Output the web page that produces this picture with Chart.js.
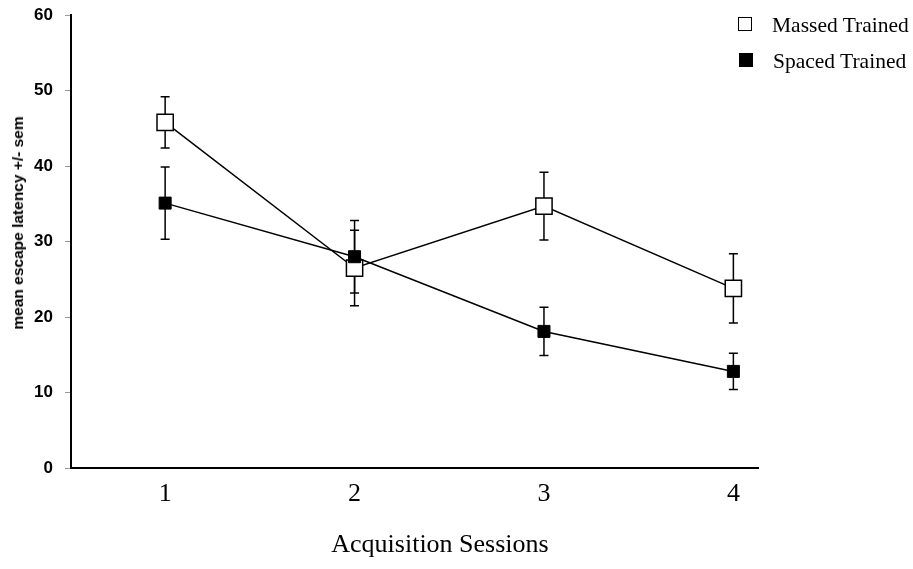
<!DOCTYPE html>
<html>
<head>
<meta charset="utf-8">
<script src="https://cdn.jsdelivr.net/npm/chart.js@4/dist/chart.umd.min.js"></script>
<style>
  html, body { margin: 0; padding: 0; background: #fff; }
  #wrap { position: relative; width: 913px; height: 569px; }
  canvas { position: absolute; left: 0; top: 0; }
  .leg { position: absolute; font-family: "Liberation Serif", "Times New Roman", serif; font-size: 21.5px; color: #000; line-height: 22px; white-space: nowrap; }
  .sw { position: absolute; box-sizing: border-box; }
  .xt { position: absolute; left: 440px; top: 531px; transform: translateX(-50%); font-family: "Liberation Serif", "Times New Roman", serif; font-size: 26px; line-height: 26px; white-space: nowrap; color: #000; }
  .yt { position: absolute; left: 17.5px; top: 223px; transform: translate(-50%, -50%) rotate(-90deg); font-family: "Liberation Sans", Arial, sans-serif; font-weight: bold; font-size: 15.5px; line-height: 16px; white-space: nowrap; color: #000; }
</style>
</head>
<body>
<div id="wrap">
  <canvas id="c" width="913" height="569"></canvas>
  <div class="sw" style="left:738px; top:17px; width:14px; height:14px; border:1.5px solid #000; background:#fff;"></div>
  <div class="leg" style="left:772px; top:14px;">Massed Trained</div>
  <div class="sw" style="left:739px; top:53px; width:14px; height:14px; background:#000;"></div>
  <div class="leg" style="left:773px; top:50px;">Spaced Trained</div>
  <div class="xt">Acquisition Sessions</div>
  <div class="yt">mean escape latency +/- sem</div>
</div>
<script>
// ---- data ----
const sessions = [1, 2, 3, 4];
const massedMeans = [45.8, 26.5, 34.7, 23.8];
const massedSem = [3.4, 5.0, 4.5, 4.6];
const spacedMeans = [35.1, 28.0, 18.1, 12.8];
const spacedSem = [4.8, 4.8, 3.2, 2.4];
const yTicks = [0, 10, 20, 30, 40, 50, 60];

const toPoints = (means) => sessions.map((s, i) => ({ x: s, y: means[i] }));

const errorBars = {
  id: 'errorBars',
  beforeDatasetsDraw(chart) {
    const ctx = chart.ctx;
    const xs = chart.scales.x, ys = chart.scales.y;
    const sets = [[massedMeans, massedSem], [spacedMeans, spacedSem]];
    ctx.save();
    ctx.strokeStyle = '#000';
    ctx.lineWidth = 1.5;
    sets.forEach(([m, e]) => {
      sessions.forEach((s, i) => {
        const px = xs.getPixelForValue(s);
        const top = ys.getPixelForValue(m[i] + e[i]);
        const bot = ys.getPixelForValue(m[i] - e[i]);
        ctx.beginPath();
        ctx.moveTo(px, top); ctx.lineTo(px, bot);
        ctx.moveTo(px - 4.5, top); ctx.lineTo(px + 4.5, top);
        ctx.moveTo(px - 4.5, bot); ctx.lineTo(px + 4.5, bot);
        ctx.stroke();
      });
    });
    ctx.restore();
  }
};

new Chart(document.getElementById('c'), {
  type: 'line',
  data: {
    datasets: [
      {
        label: 'Spaced Trained',
        data: toPoints(spacedMeans),
        borderColor: '#000', borderWidth: 1.5,
        pointStyle: 'rect', pointRadius: 8.5, pointHoverRadius: 8.5,
        pointBackgroundColor: '#000', pointBorderColor: '#000', pointBorderWidth: 1,
        tension: 0, order: 0
      },
      {
        label: 'Massed Trained',
        data: toPoints(massedMeans),
        borderColor: '#000', borderWidth: 1.5,
        pointStyle: 'rect', pointRadius: 11.5, pointHoverRadius: 11.5,
        pointBackgroundColor: '#fff', pointBorderColor: '#000', pointBorderWidth: 1.5,
        tension: 0, order: 1
      }
    ]
  },
  options: {
    responsive: false,
    animation: false,
    events: [],
    layout: { autoPadding: false, padding: { top: 15, right: 155, bottom: 0, left: 0 } },
    plugins: { legend: { display: false }, tooltip: { enabled: false } },
    scales: {
      x: {
        type: 'linear', min: 0.503, max: 4.13,
        afterBuildTicks: (s) => { s.ticks = sessions.map(v => ({ value: v })); },
        afterFit: (s) => { s.height = 101; },
        grid: { display: false, drawTicks: false },
        border: { display: true, color: '#000', width: 2 },
        ticks: { color: '#000', padding: 11, font: { family: 'Liberation Serif', size: 26 } },
        title: { display: false }
      },
      y: {
        min: 0, max: 60,
        afterBuildTicks: (s) => { s.ticks = yTicks.map(v => ({ value: v })); },
        afterFit: (s) => { s.width = 71; },
        grid: { display: true, drawOnChartArea: false, drawTicks: true, tickLength: 13, tickBorderDash: [6, 7], tickBorderDashOffset: 6, tickColor: '#999', color: '#999', lineWidth: 1 },
        border: { display: true, color: '#000', width: 2 },
        ticks: { color: '#000', padding: 5, font: { family: 'Liberation Sans', size: 17, weight: 'bold' } },
        title: { display: false }
      }
    }
  },
  plugins: [errorBars]
});
</script>
</body>
</html>
